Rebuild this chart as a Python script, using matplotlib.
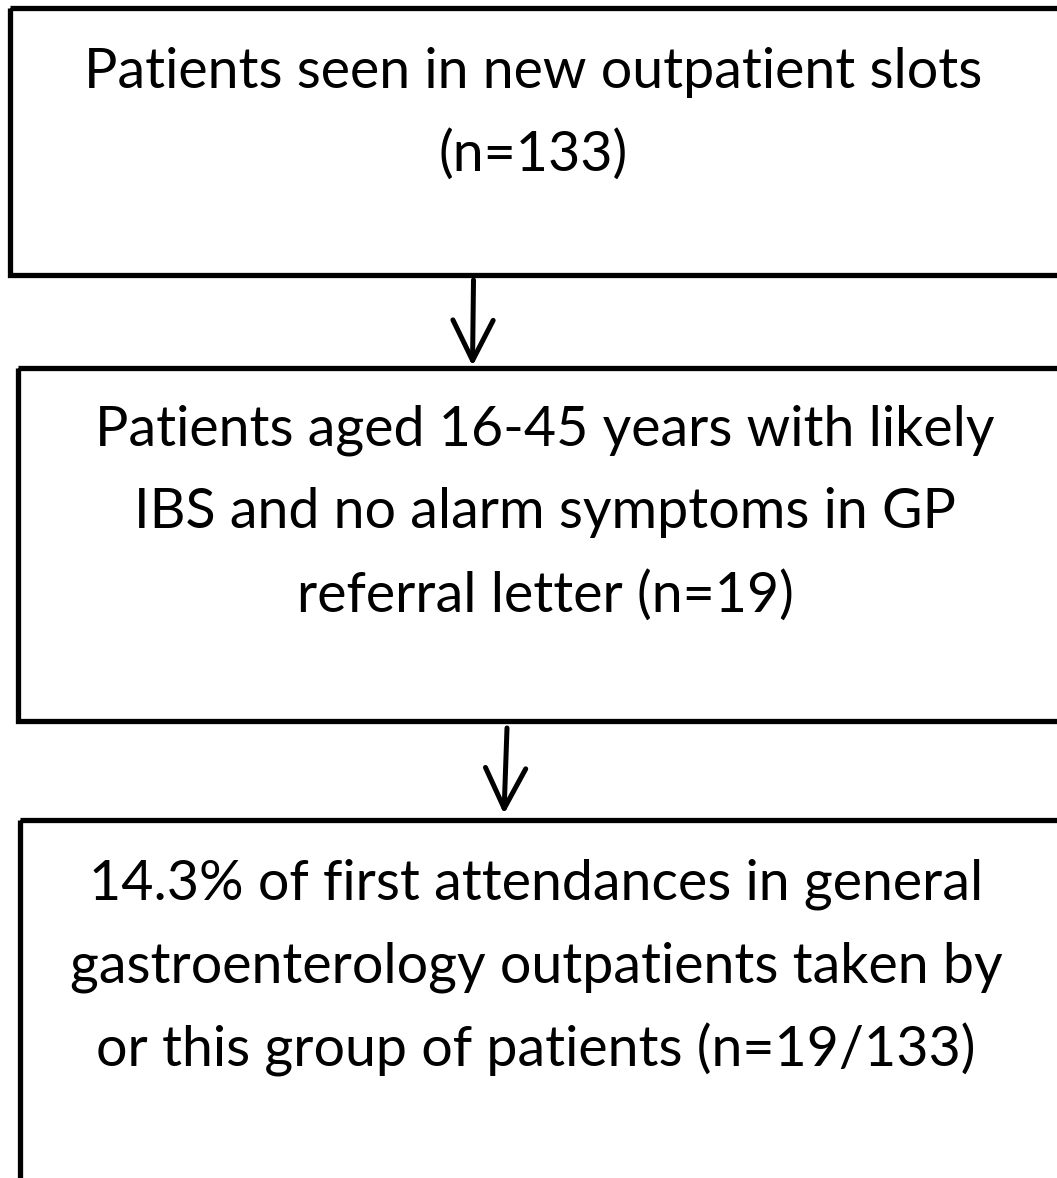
import matplotlib.pyplot as plt
from matplotlib.patches import Rectangle

# flowchart text, one list of lines per box
box_lines = [
    ["Patients seen in new outpatient slots", "(n=133)"],
    ["Patients aged 16-45 years with likely", "IBS and no alarm symptoms in GP", "referral letter (n=19)"],
    ["14.3% of first attendances in general", "gastroenterology outpatients taken by", "or this group of patients (n=19/133)"],
]

# box layout in pixels: left, top, bottom, text centre x, first text line centre y
box_left = [9.5, 17.5, 20]
box_top = [7.5, 367.5, 819.5]
box_bottom = [274.5, 720.5, 1200]
text_x = [533, 545, 536]
first_line_y = [72, 430, 884]
line_step = 83

# arrows: (x_start, y_start, x_end, y_end)
arrows = [(473.5, 280, 472.5, 366), (507, 728, 504, 814)]

W, H = 1057, 1178
fig = plt.figure(figsize=(W / 100, H / 100), dpi=100)
ax = fig.add_axes([0, 0, 1, 1])
ax.set_xlim(0, W)
ax.set_ylim(H, 0)
ax.axis('off')

for lines, left, top, bottom, tx, y0 in zip(box_lines, box_left, box_top, box_bottom, text_x, first_line_y):
    ax.add_patch(Rectangle((left, top), 1200 - left, bottom - top, fill=False,
                           edgecolor='black', lw=3.8, joinstyle='miter'))
    for i, line in enumerate(lines):
        ax.text(tx, y0 + i * line_step, line, ha='center', va='center',
                fontsize=40, family=['Lato', 'DejaVu Sans'], color='black')

for x0, y0, x1, y1 in arrows:
    ax.annotate('', xy=(x1, y1), xytext=(x0, y0),
                arrowprops=dict(arrowstyle='->,head_length=2.9,head_width=1.45',
                                lw=3.6, color='black', shrinkA=0, shrinkB=0))

fig.savefig('out.png', dpi=100)
